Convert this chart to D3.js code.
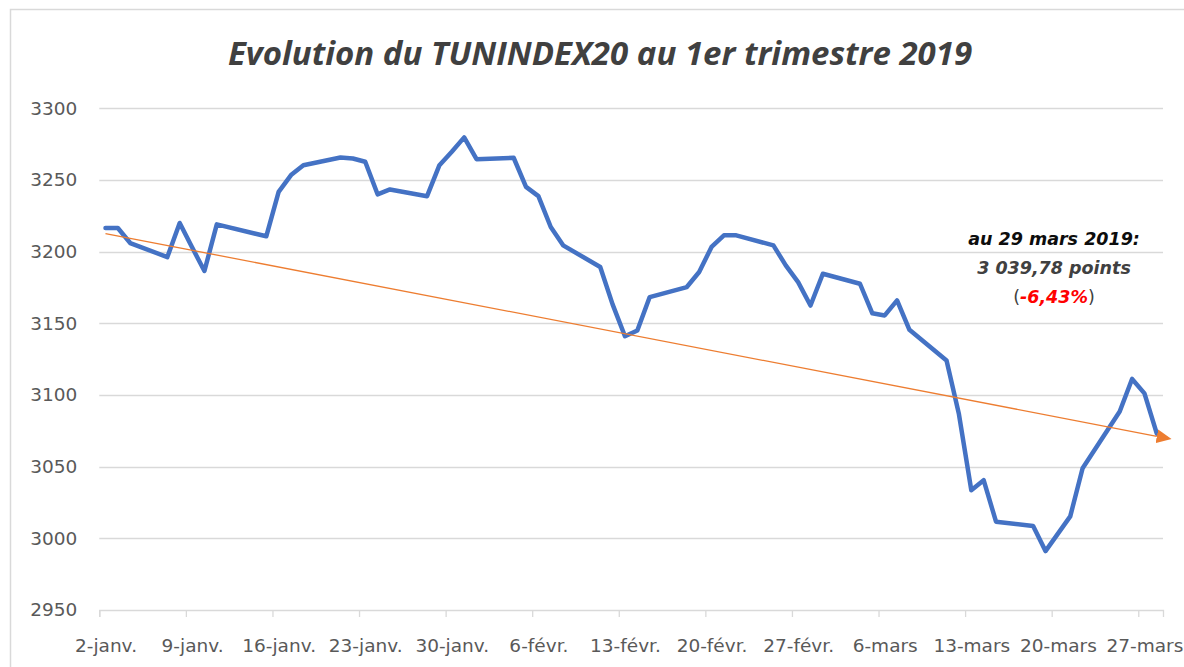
<!DOCTYPE html>
<html>
<head>
<meta charset="utf-8">
<script src="https://cdn.jsdelivr.net/npm/d3@7"></script>
<style>
  body { margin: 0; background: #fff; }
  svg { display: block; }
</style>
</head>
<body>
<div id="chart"></div>
<script>
var width = 1184,
    height = 667;

// séance -> clôture du TUNINDEX20
var dates = [
  "2019-01-02", "2019-01-03", "2019-01-04", "2019-01-07", "2019-01-08", "2019-01-09",
  "2019-01-10", "2019-01-11", "2019-01-15", "2019-01-16", "2019-01-17", "2019-01-18",
  "2019-01-21", "2019-01-22", "2019-01-23", "2019-01-24", "2019-01-25", "2019-01-28",
  "2019-01-29", "2019-01-30", "2019-01-31", "2019-02-01", "2019-02-04", "2019-02-05",
  "2019-02-06", "2019-02-07", "2019-02-08", "2019-02-11", "2019-02-12", "2019-02-13",
  "2019-02-14", "2019-02-15", "2019-02-18", "2019-02-19", "2019-02-20", "2019-02-21",
  "2019-02-22", "2019-02-25", "2019-02-26", "2019-02-27", "2019-02-28", "2019-03-01",
  "2019-03-04", "2019-03-05", "2019-03-06", "2019-03-07", "2019-03-08", "2019-03-11",
  "2019-03-12", "2019-03-13", "2019-03-14", "2019-03-15", "2019-03-18", "2019-03-19",
  "2019-03-21", "2019-03-22", "2019-03-25", "2019-03-26", "2019-03-27", "2019-03-28"
];
var values = [
  3216.5, 3216.5, 3206.0, 3196.2, 3220.0, 3203.0,
  3186.5, 3219.0, 3210.7, 3241.7, 3253.4, 3260.3,
  3265.7, 3265.0, 3262.7, 3240.0, 3243.4, 3238.7,
  3260.3, 3269.7, 3279.7, 3264.5, 3265.5, 3245.2,
  3238.7, 3217.2, 3204.4, 3189.3, 3163.2, 3141.0,
  3145.0, 3168.3, 3175.3, 3185.8, 3203.3, 3211.4,
  3211.4, 3204.4, 3190.4, 3178.7, 3162.4, 3184.6,
  3177.6, 3157.0, 3155.5, 3166.0, 3145.5, 3124.0,
  3086.7, 3033.6, 3040.6, 3011.6, 3008.6, 2991.1,
  3015.3, 3048.9, 3088.5, 3111.2, 3101.1, 3073.0
];
// flèche de tendance (début / fin)
var trendDates = ["2019-01-02", "2019-03-28"];
var trendValues = [3212.6, 3071.2];

var yTicks = [2950, 3000, 3050, 3100, 3150, 3200, 3250, 3300];
var xTickDates = ["2019-01-02", "2019-01-09", "2019-01-16", "2019-01-23", "2019-01-30",
  "2019-02-06", "2019-02-13", "2019-02-20", "2019-02-27", "2019-03-06", "2019-03-13",
  "2019-03-20", "2019-03-27"];
var xTickLabels = ["2-janv.", "9-janv.", "16-janv.", "23-janv.", "30-janv.", "6-févr.",
  "13-févr.", "20-févr.", "27-févr.", "6-mars", "13-mars", "20-mars", "27-mars"];

var title = "Evolution du TUNINDEX20 au 1er trimestre 2019";
var noteLines = ["au 29 mars 2019:", "3 039,78 points"];
var notePct = "-6,43%";

var parse = d3.utcParse("%Y-%m-%d");
var halfDay = 12 * 3600 * 1000;
var data = dates.map(function (d, i) {
  return { date: parse(d), value: values[i] };
});
var trend = trendDates.map(function (d, i) {
  return { date: parse(d), value: trendValues[i] };
});

var x = d3.scaleUtc()
    .domain([parse("2019-01-02"), parse("2019-03-29")])
    .range([99.3, 1163]);

var y = d3.scaleLinear()
    .domain([2950, 3300])
    .range([610, 108.3]);

var svg = d3.select("#chart").append("svg")
    .attr("width", width)
    .attr("height", height);

// cadre du graphique
svg.append("path")
    .attr("d", "M10.5," + height + "V9.5H" + width)
    .attr("fill", "none")
    .attr("stroke", "#d9d9d9")
    .attr("stroke-width", 1.5);

svg.append("text")
    .attr("x", 600)
    .attr("y", 65)
    .attr("text-anchor", "middle")
    .attr("font-family", "Open Sans")
    .attr("font-size", 33)
    .attr("font-weight", "bold")
    .attr("font-style", "italic")
    .attr("fill", "#404040")
    .text(title);

// grille horizontale
svg.append("g")
    .selectAll("line")
    .data(yTicks.slice(1))
    .enter()
    .append("line")
    .attr("x1", x.range()[0])
    .attr("x2", x.range()[1])
    .attr("y1", function (d) { return Math.round(y(d)) + 0.5; })
    .attr("y2", function (d) { return Math.round(y(d)) + 0.5; })
    .attr("stroke", "#d9d9d9")
    .attr("stroke-width", 1.3);

// axe Y
svg.append("g")
    .attr("transform", "translate(" + (x.range()[0] - 22) + ",0)")
    .call(d3.axisLeft(y).tickValues(yTicks).tickFormat(d3.format("d")).tickSize(0).tickPadding(0))
    .call(function (g) { g.select(".domain").remove(); })
    .selectAll("text")
    .attr("font-family", "DejaVu Sans")
    .attr("font-size", 18.5)
    .attr("fill", "#595959");

// axe X
var xAxis = svg.append("g")
    .attr("transform", "translate(0," + y(2950) + ")")
    .call(d3.axisBottom(x)
      .tickValues(xTickDates.map(parse))
      .tickSize(7)
      .tickFormat(function (d, i) { return xTickLabels[i]; }));
xAxis.select(".domain")
    .attr("stroke", "#d9d9d9")
    .attr("stroke-width", 1.3);
xAxis.selectAll(".tick line")
    .attr("stroke", "#d9d9d9")
    .attr("stroke-width", 1.3);
xAxis.selectAll(".tick text")
    .attr("x", x(parse("2019-01-02").getTime() + halfDay) - x(parse("2019-01-02")))
    .attr("dy", "1.72em")
    .attr("font-family", "DejaVu Sans")
    .attr("font-size", 18.5)
    .attr("fill", "#595959");

function xp(d) { return x(d.date.getTime() + halfDay); }

// courbe de l'indice
var line = d3.line()
    .x(xp)
    .y(function (d) { return y(d.value); });

svg.append("path")
    .datum(data)
    .attr("fill", "none")
    .attr("stroke", "#4472c4")
    .attr("stroke-width", 4.5)
    .attr("stroke-linejoin", "round")
    .attr("stroke-linecap", "round")
    .attr("d", line);

// flèche de tendance
svg.append("defs").append("marker")
    .attr("id", "arrow")
    .attr("markerUnits", "userSpaceOnUse")
    .attr("markerWidth", 16)
    .attr("markerHeight", 14)
    .attr("refX", 0)
    .attr("refY", 7)
    .attr("orient", "auto")
    .append("path")
    .attr("d", "M0,0L15,7L0,14Z")
    .attr("fill", "#ed7d31");

svg.append("path")
    .datum(trend)
    .attr("fill", "none")
    .attr("stroke", "#ed7d31")
    .attr("stroke-width", 1.3)
    .attr("marker-end", "url(#arrow)")
    .attr("d", line);

// annotation
var note = svg.append("text")
    .attr("text-anchor", "middle")
    .attr("font-family", "DejaVu Sans")
    .attr("font-size", 17.5);

note.append("tspan")
    .attr("x", 1054).attr("y", 245)
    .attr("font-weight", "bold").attr("font-style", "italic")
    .attr("fill", "#0d0d0d")
    .text(noteLines[0]);
note.append("tspan")
    .attr("x", 1054).attr("y", 274)
    .attr("font-weight", "bold").attr("font-style", "italic")
    .attr("fill", "#404040")
    .text(noteLines[1]);

var pct = note.append("tspan").attr("x", 1054).attr("y", 303);
pct.append("tspan").attr("fill", "#404040").text("(");
pct.append("tspan")
    .attr("font-weight", "bold").attr("font-style", "italic")
    .attr("fill", "#ff0000")
    .text(notePct);
pct.append("tspan").attr("fill", "#404040").text(")");
</script>
</body>
</html>
